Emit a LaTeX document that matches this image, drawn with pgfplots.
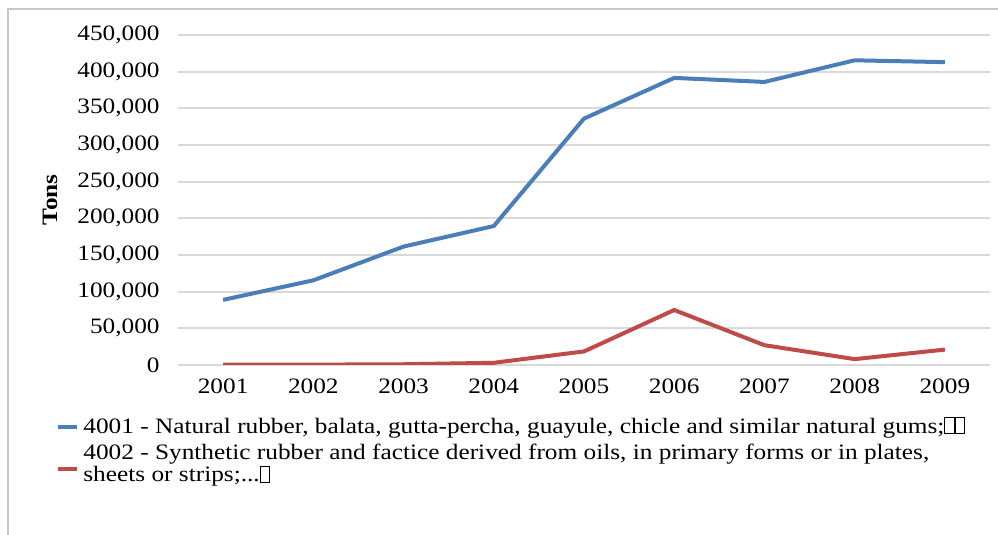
\documentclass[border=0pt]{standalone}
\usepackage{pgfplots}
\pgfplotsset{compat=1.18}
\usepackage{fontspec}
\setmainfont{Liberation Serif}[FakeStretch=1.15]

\definecolor{natblue}{HTML}{4A7EBB}
\definecolor{synred}{HTML}{BE4B48}
\definecolor{gridgray}{HTML}{D9D9D9}
\definecolor{framegray}{HTML}{C8C8C8}

% placeholder box for characters the source font could not show
\newcommand\tofu{{\setlength\fboxsep{0pt}\setlength\fboxrule{0.5pt}\fbox{\rule{0pt}{1.45ex}\hspace{0.38em}}}}

% legend line drawn a little lower, for the two-line entry
\pgfplotsset{lowlegend/.style={legend image code/.code={\draw[##1, line width=2pt] (0pt,-2.5pt) -- (9.5pt,-2.5pt);}}}

\pgfplotstableread{
x  natural  synthetic
0  88800    500
1  115500   500
2  161500   1000
3  189500   3000
4  336000   18500
5  391500   75000
6  386000   27000
7  415500   8000
8  413000   21000
}\rubber

\begin{document}
\begin{tikzpicture}
\useasboundingbox (-89pt,-85pt) rectangle (410pt,182.5pt);
\draw[framegray, line width=0.8pt] (-85pt,-86pt) -- (-85pt,178pt) -- (411pt,178pt);
\begin{axis}[
  scale only axis,
  width=406pt, height=165pt,
  xmin=-0.5, xmax=8.5,
  ymin=0, ymax=450000,
  xtick=data,
  xticklabels={2001,2002,2003,2004,2005,2006,2007,2008,2009},
  ytick={0,50000,100000,150000,200000,250000,300000,350000,400000,450000},
  yticklabels={0,{50,000},{100,000},{150,000},{200,000},{250,000},{300,000},{350,000},{400,000},{450,000}},
  scaled y ticks=false,
  ymajorgrids,
  grid style={line width=1pt, gridgray},
  axis line style={draw=none},
  major tick length=0pt,
  tick style={draw=none},
  tick label style={font=\fontsize{11}{13}\selectfont},
  yticklabel style={anchor=east, inner sep=0pt, xshift=-9pt},
  xticklabel style={anchor=north, inner sep=0pt, yshift=-6.5pt},
  ylabel={\textbf{Tons}},
  every axis y label/.style={at={(axis description cs:-0.1576,0.5)}, rotate=90, anchor=center, font=\fontsize{11}{13}\selectfont},
  legend style={at={(0,0)}, anchor=north west, xshift=-61pt, yshift=-24pt,
    draw=none, fill=none, inner sep=0pt, row sep=0pt,
    font=\fontsize{11}{11.2}\selectfont,
    cells={align=left, inner sep=1pt}},
  legend cell align=left,
  legend image code/.code={\draw[#1, line width=2pt] (0pt,0pt) -- (9.5pt,0pt);},
]
\addplot[natblue, line width=2pt] table[x=x, y=natural] {\rubber};
\addlegendentry{4001 - Natural rubber, balata, gutta-percha, guayule, chicle and similar natural gums;\tofu\tofu}
\addplot[synred, line width=2pt, lowlegend] table[x=x, y=synthetic] {\rubber};
\addlegendentry{4002 - Synthetic rubber and factice derived from oils, in primary forms or in plates,\\sheets or strips;...\tofu}
\end{axis}
\end{tikzpicture}
\end{document}
